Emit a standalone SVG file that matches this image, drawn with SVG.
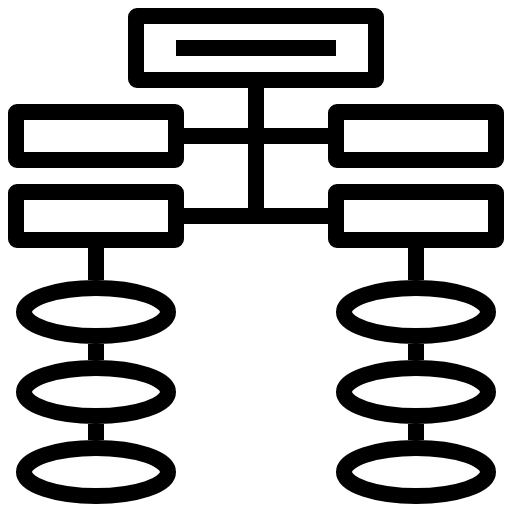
<svg xmlns="http://www.w3.org/2000/svg" width="512" height="512" viewBox="0 0 512 512">
<style>
.box{fill:none;stroke:#000;stroke-width:16;stroke-linejoin:round}
.ell{fill:none;stroke:#000;stroke-width:16}
.ln{fill:none;stroke:#000;stroke-width:16;stroke-linecap:butt}
</style>
<rect width="512" height="512" fill="#fff"/>
<g id="connectors">
<path class="ln" d="M256 88V224M184 136H248M264 136H328M184 216H248M264 216H328"/>
<path class="ln" d="M96 248V280M96 344V360M96 424V440"/>
<path class="ln" d="M416 248V280M416 344V360M416 424V440"/>
</g>
<g id="top">
<rect class="box" x="136" y="16" width="240" height="64" rx="1"/>
<rect x="176" y="40" width="160" height="16" fill="#000"/>
</g>
<g id="left1"><rect class="box" x="16" y="112" width="160" height="48" rx="1"/></g>
<g id="left2"><rect class="box" x="16" y="192" width="160" height="48" rx="1"/></g>
<g id="right1"><rect class="box" x="336" y="112" width="160" height="48" rx="1"/></g>
<g id="right2"><rect class="box" x="336" y="192" width="160" height="48" rx="1"/></g>
<g id="le1"><ellipse class="ell" cx="96" cy="312" rx="72" ry="24"/></g>
<g id="le2"><ellipse class="ell" cx="96" cy="392" rx="72" ry="24"/></g>
<g id="le3"><ellipse class="ell" cx="96" cy="472" rx="72" ry="24"/></g>
<g id="re1"><ellipse class="ell" cx="416" cy="312" rx="72" ry="24"/></g>
<g id="re2"><ellipse class="ell" cx="416" cy="392" rx="72" ry="24"/></g>
<g id="re3"><ellipse class="ell" cx="416" cy="472" rx="72" ry="24"/></g>
</svg>
